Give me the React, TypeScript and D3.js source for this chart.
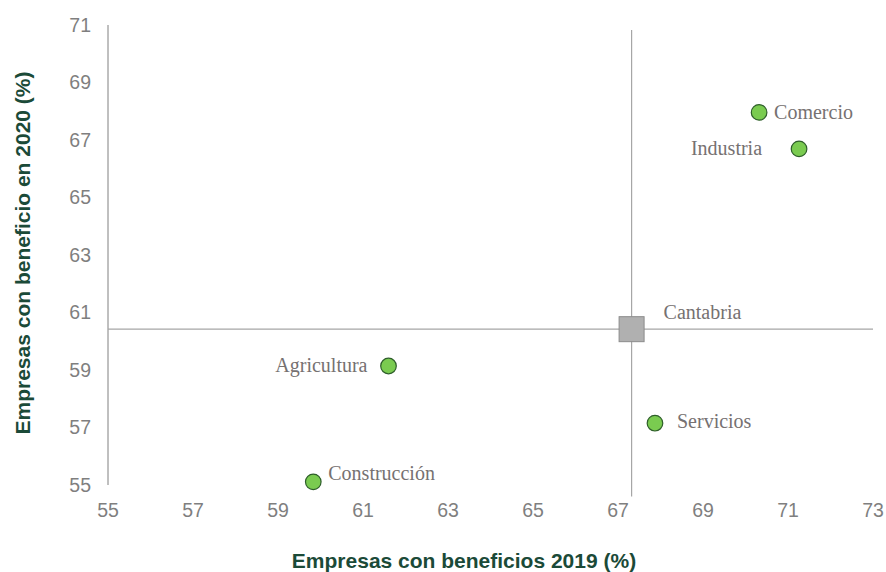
import { scaleLinear, range } from "d3";

const sectors = ["Comercio", "Industria", "Agricultura", "Servicios", "Construcción"];
const beneficio2019 = [70.32, 71.26, 61.6, 67.87, 59.83];
const beneficio2020 = [67.96, 66.69, 59.14, 57.15, 55.11];
// label placement relative to the marker: [dx, dy, anchor]
const labelOffsets: [number, number, string][] = [
  [15, 1, "start"],
  [-37, 0, "end"],
  [-21, 0, "end"],
  [22, -1, "start"],
  [15, -8, "start"],
];

const regionName = "Cantabria";
const region2019 = 67.32;
const region2020 = 60.42;

const xTicks = range(55, 74, 2);
const yTicks = range(55, 72, 2);

const W = 886;
const H = 572;
const tickColor = "#7f7f7f";
const labelColor = "#767171";
const titleColor = "#1b4a38";
const serif = "'Liberation Serif', 'Times New Roman', serif";

export default function App() {
  const x = scaleLinear().domain([55, 73]).range([108, 873]);
  const y = scaleLinear().domain([55, 71]).range([485, 25]);

  return (
    <svg
      width={W}
      height={H}
      style={{ position: "absolute", left: 0, top: 0, background: "#fff" }}
      fontFamily="'Liberation Sans', Arial, sans-serif"
    >
      {/* left axis line */}
      <line x1={x(55)} x2={x(55)} y1={y(71)} y2={y(55)} stroke="#808080" strokeWidth={1} />

      {/* Y ticks */}
      {yTicks.map((t) => (
        <text key={t} x={91} y={y(t)} dy="0.35em" textAnchor="end" fontSize={19.5} fill={tickColor}>
          {t}
        </text>
      ))}

      {/* X ticks */}
      {xTicks.map((t) => (
        <text key={t} x={x(t)} y={510} dy="0.35em" textAnchor="middle" fontSize={19.5} fill={tickColor}>
          {t}
        </text>
      ))}

      {/* regional average crosshair */}
      <line x1={x(55)} x2={x(73)} y1={y(region2020)} y2={y(region2020)} stroke="#a6a6a6" strokeWidth={1.2} />
      <line x1={x(region2019)} x2={x(region2019)} y1={y(70.83)} y2={y(54.6)} stroke="#a6a6a6" strokeWidth={1.2} />
      <rect
        x={x(region2019) - 12.5}
        y={y(region2020) - 12.5}
        width={25}
        height={25}
        fill="#b0b0b0"
        stroke="#8c8c8c"
        strokeWidth={1}
      />
      <text
        x={x(region2019) + 32}
        y={y(region2020) - 17}
        dy="0.33em"
        fontFamily={serif}
        fontSize={20}
        fill={labelColor}
      >
        {regionName}
      </text>

      {/* sectors */}
      {sectors.map((s, i) => {
        const cx = x(beneficio2019[i]);
        const cy = y(beneficio2020[i]);
        const [dx, dy, anchor] = labelOffsets[i];
        return (
          <g key={s}>
            <circle cx={cx} cy={cy} r={7.8} fill="#7acb50" stroke="#2e5e2a" strokeWidth={1.2} />
            <text
              x={cx + dx}
              y={cy + dy}
              dy="0.3em"
              textAnchor={anchor}
              fontFamily={serif}
              fontSize={20}
              fill={labelColor}
            >
              {s}
            </text>
          </g>
        );
      })}

      {/* axis titles */}
      <text x={464} y={561} dy="0.35em" textAnchor="middle" fontSize={21} fontWeight="bold" fill={titleColor}>
        Empresas con beneficios 2019 (%)
      </text>
      <text
        transform={`translate(23,253) rotate(-90)`}
        dy="0.35em"
        textAnchor="middle"
        fontSize={21}
        fontWeight="bold"
        fill={titleColor}
      >
        Empresas con beneficio en 2020 (%)
      </text>
    </svg>
  );
}
